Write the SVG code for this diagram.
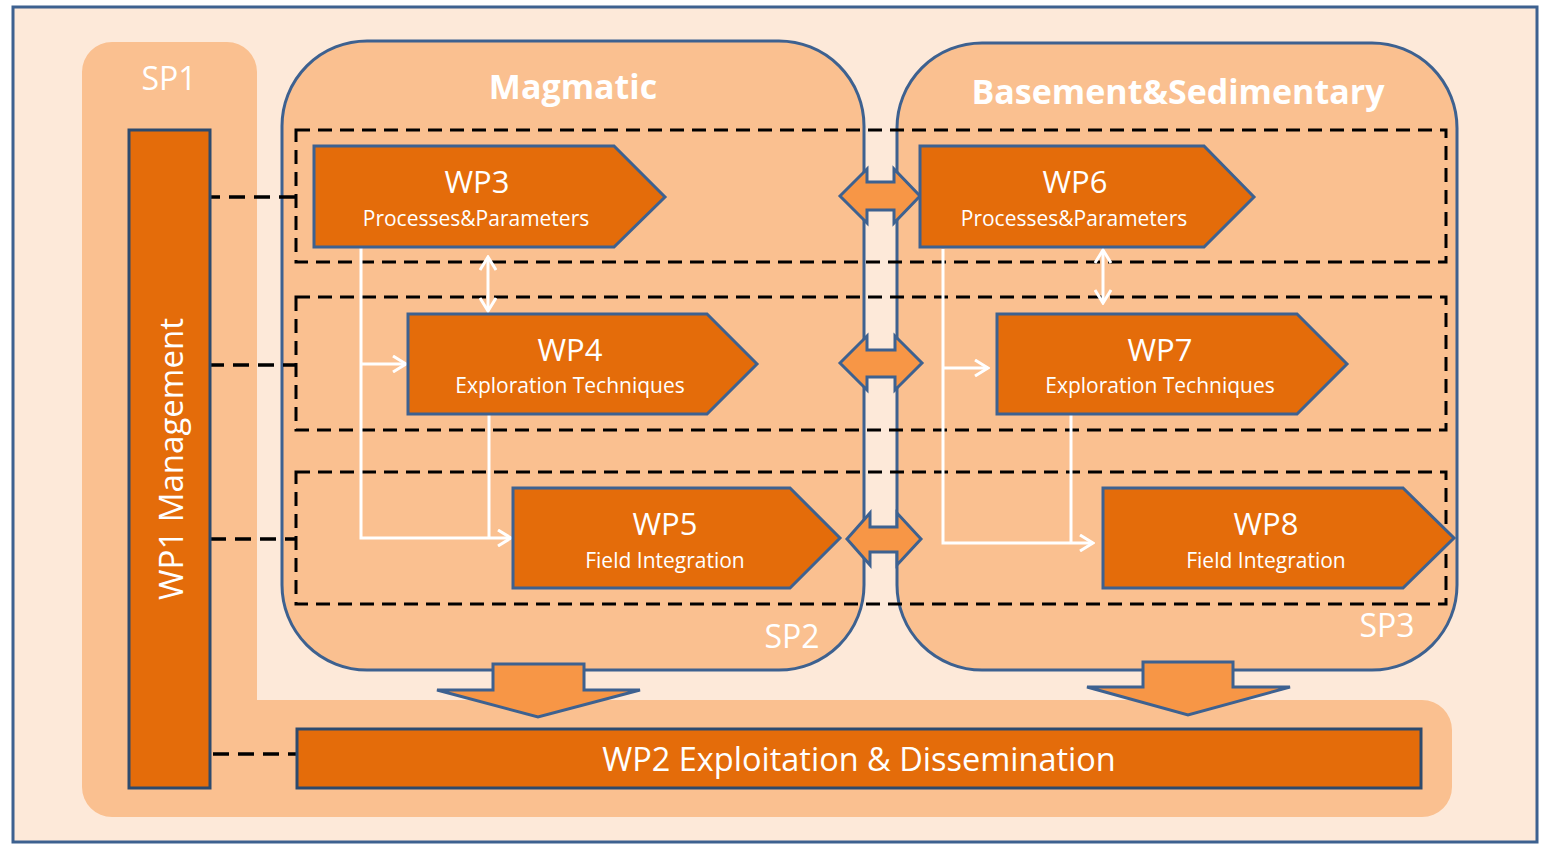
<svg xmlns="http://www.w3.org/2000/svg" width="1541" height="845" viewBox="0 0 1541 845">
<style>
  .sp{fill:#fac090;stroke:#3d6190;stroke-width:3}
  .wp{fill:#e46c0a;stroke:#3d6190;stroke-width:3}
  .wpd{fill:#e46c0a;stroke:#2c4a6e;stroke-width:3}
  .row{fill:none;stroke:#000;stroke-width:3;stroke-dasharray:14 8}
  .dl{fill:none;stroke:#000;stroke-width:3.5;stroke-dasharray:16 9}
  .wl{fill:none;stroke:#fff;stroke-width:3}
  .arr{fill:#f79646;stroke:#3d6190;stroke-width:3;stroke-linejoin:miter}
  text{font-family:"Open Sans","Liberation Sans",sans-serif;fill:#fff;text-anchor:middle}
  .t1{font-size:31px}
  .t2{font-size:21px}
  .hd{font-size:34px;font-weight:bold}
  .spl{font-size:32px}
</style>
<defs>
  <marker id="ch" viewBox="0 0 16 18" markerWidth="16" markerHeight="18" refX="14" refY="9" orient="auto-start-reverse" markerUnits="userSpaceOnUse">
    <path d="M1,1 L14,9 L1,17" fill="none" stroke="#fff" stroke-width="3"/>
  </marker>
</defs>
<rect x="13" y="7" width="1524" height="835" fill="#fde9d9" stroke="#3d6190" stroke-width="3"/>
<g id="SP1">
  <path d="M112,42 H227 A30,30 0 0 1 257,72 V700 H1422 A30,30 0 0 1 1452,730 V787 A30,30 0 0 1 1422,817 H112 A30,30 0 0 1 82,787 V72 A30,30 0 0 1 112,42 Z" fill="#fac090"/>
  <text class="spl" x="169" y="90">SP1</text>
</g>
<g id="SP2">
  <rect class="sp" x="282" y="41" width="582" height="629" rx="85" ry="85"/>
  <text class="hd" x="573" y="99">Magmatic</text>
  <text class="spl" x="792" y="648">SP2</text>
</g>
<g id="SP3">
  <rect class="sp" x="897" y="43" width="560" height="627" rx="85" ry="85"/>
  <text class="hd" x="1178" y="104">Basement&amp;Sedimentary</text>
  <text class="spl" x="1387" y="637">SP3</text>
</g>
<g id="rows">
  <rect class="row" x="296" y="130" width="1150" height="132"/>
  <rect class="row" x="296" y="297" width="1150" height="133"/>
  <rect class="row" x="296" y="472" width="1150" height="132"/>
</g>
<g id="connectors">
  <path class="dl" d="M204,197 H296"/>
  <path class="dl" d="M208,365 H296"/>
  <path class="dl" d="M210,539 H296"/>
  <path class="dl" d="M213,754 H296"/>
  <path class="wl" d="M361,248 V538 H511" marker-end="url(#ch)"/>
  <path class="wl" d="M361,364 H406" marker-end="url(#ch)"/>
  <path class="wl" d="M489,414 V538"/>
  <path class="wl" d="M488,257 V311" marker-start="url(#ch)" marker-end="url(#ch)"/>
  <path class="wl" d="M943,249 V543 H1093" marker-end="url(#ch)"/>
  <path class="wl" d="M943,368 H988" marker-end="url(#ch)"/>
  <path class="wl" d="M1071,414 V543"/>
  <path class="wl" d="M1103,250 V303" marker-start="url(#ch)" marker-end="url(#ch)"/>
  <path class="arr" d="M840,196 L867,169 V182 H894 V169 L920,196 L894,223 V210 H867 V223 Z"/>
  <path class="arr" d="M840,363 L867,336 V350 H895 V336 L922,363 L895,390 V377 H867 V390 Z"/>
  <path class="arr" d="M847,539 L870,513 V527 H897 V513 L921,539 L897,565 V552 H870 V565 Z"/>
  <path class="arr" d="M493,664 H584 V690 H640 L538,717 L437,690 H493 Z"/>
  <path class="arr" d="M1143,662 H1233 V687 H1290 L1188,715 L1087,687 H1143 Z"/>
</g>
<g id="WP1">
  <rect class="wpd" x="129" y="130" width="81" height="658"/>
  <text transform="translate(183,459) rotate(-90)" style="font-size:33px">WP1 Management</text>
</g>
<g id="WP2">
  <rect class="wpd" x="297" y="729" width="1124" height="59"/>
  <text x="859" y="771" style="font-size:32.5px">WP2 Exploitation &amp; Dissemination</text>
</g>
<g id="WP3">
  <path class="wp" d="M314,146 H614 L665,197 L614,247 H314 Z"/>
  <text class="t1" x="477" y="193">WP3</text>
  <text class="t2" x="476" y="226">Processes&amp;Parameters</text>
</g>
<g id="WP4">
  <path class="wp" d="M408,314 H707 L757,364 L707,414 H408 Z"/>
  <text class="t1" x="570" y="361">WP4</text>
  <text class="t2" x="570" y="393">Exploration Techniques</text>
</g>
<g id="WP5">
  <path class="wp" d="M513,488 H790 L840,538 L790,588 H513 Z"/>
  <text class="t1" x="665" y="535">WP5</text>
  <text class="t2" x="665" y="568">Field Integration</text>
</g>
<g id="WP6">
  <path class="wp" d="M920,146 H1204 L1254,197 L1204,247 H920 Z"/>
  <text class="t1" x="1075" y="193">WP6</text>
  <text class="t2" x="1074" y="226">Processes&amp;Parameters</text>
</g>
<g id="WP7">
  <path class="wp" d="M997,314 H1297 L1347,364 L1297,414 H997 Z"/>
  <text class="t1" x="1160" y="361">WP7</text>
  <text class="t2" x="1160" y="393">Exploration Techniques</text>
</g>
<g id="WP8">
  <path class="wp" d="M1103,488 H1403 L1454,538 L1403,588 H1103 Z"/>
  <text class="t1" x="1266" y="535">WP8</text>
  <text class="t2" x="1266" y="568">Field Integration</text>
</g>
</svg>
